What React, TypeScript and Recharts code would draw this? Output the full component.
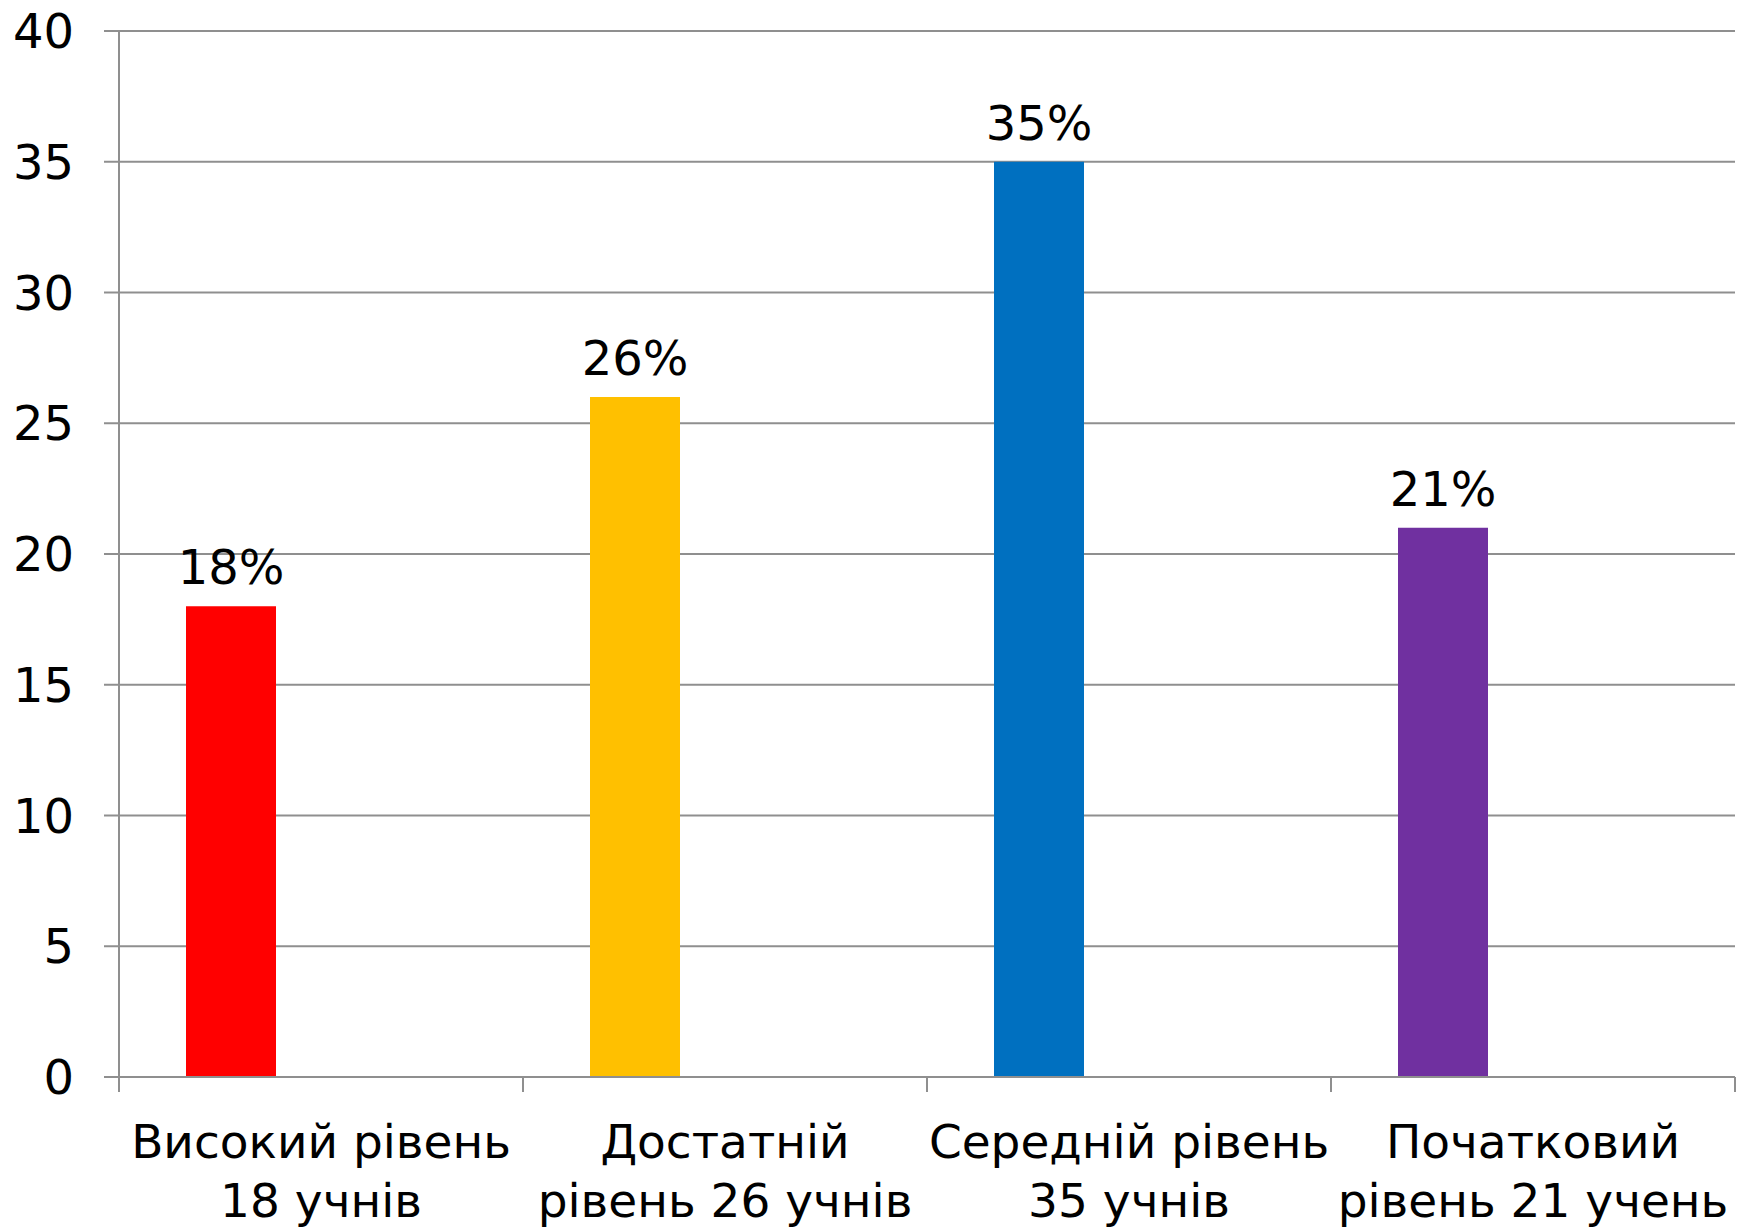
import React from 'react';
import { BarChart, Bar, XAxis, YAxis, CartesianGrid, Cell, LabelList } from 'recharts';

const categories = [
  'Високий рівень\n18 учнів',
  'Достатній\nрівень 26 учнів',
  'Середній рівень\n35 учнів',
  'Початковий\nрівень 21 учень',
];
const values = [18, 26, 35, 21];
const valueLabels = ['18%', '26%', '35%', '21%'];
const barColors = ['#FF0000', '#FFC000', '#0070C0', '#7030A0'];
const yTicks = [0, 5, 10, 15, 20, 25, 30, 35, 40];

const data = categories.map((c, i) => ({
  category: c,
  value: values[i],
  label: valueLabels[i],
  series2: null,
  series3: null,
}));

const WIDTH = 1750;
const HEIGHT = 1228;
const PLOT_LEFT = 119;
const PLOT_RIGHT = 1735;
const PLOT_TOP = 31;
const PLOT_BOTTOM = 1077;
const FONT = '"DejaVu Sans", Verdana, sans-serif';
const FONT_SIZE = 48;
const X_FONT_SIZE = 47;
const GRID = '#8f8f8f';

function XTick(props: any) {
  const { x, y, payload, index } = props;
  const band = (PLOT_RIGHT - PLOT_LEFT) / categories.length;
  const lines = String(payload.value).split('\n');
  return (
    <g>
      <line x1={x - band / 2} x2={x - band / 2} y1={y} y2={y + 15} stroke={GRID} strokeWidth={2} />
      {index === categories.length - 1 && (
        <line x1={x + band / 2} x2={x + band / 2} y1={y} y2={y + 15} stroke={GRID} strokeWidth={2} />
      )}
      <text x={x} y={y + 81} textAnchor="middle" fontFamily={FONT} fontSize={X_FONT_SIZE} fill="#000">
        {lines.map((l, i) => (
          <tspan key={i} x={x} dy={i === 0 ? 0 : 59}>
            {l}
          </tspan>
        ))}
      </text>
    </g>
  );
}

export default function App() {
  return (
    <div style={{ position: 'absolute', left: 0, top: 0, width: WIDTH, height: HEIGHT, background: '#fff' }}>
      <BarChart
        width={WIDTH}
        height={HEIGHT}
        data={data}
        margin={{ top: PLOT_TOP, right: WIDTH - PLOT_RIGHT, left: 0, bottom: 0 }}
        barCategoryGap={67}
        barGap={0}
      >
        <CartesianGrid horizontal vertical={false} stroke={GRID} strokeWidth={2} />
        <XAxis
          dataKey="category"
          height={HEIGHT - PLOT_BOTTOM}
          interval={0}
          tickLine={false}
          tickSize={0}
          tickMargin={0}
          axisLine={{ stroke: GRID, strokeWidth: 2 }}
          tick={<XTick />}
        />
        <YAxis
          width={PLOT_LEFT}
          domain={[0, 40]}
          ticks={yTicks}
          interval={0}
          tickSize={15}
          tickMargin={30}
          axisLine={{ stroke: GRID, strokeWidth: 2 }}
          tickLine={{ stroke: GRID, strokeWidth: 2 }}
          tick={{ fill: '#000', fontSize: FONT_SIZE, fontFamily: FONT }}
        />
        <Bar dataKey="value" isAnimationActive={false}>
          {data.map((d, i) => (
            <Cell key={i} fill={barColors[i]} />
          ))}
          <LabelList
            dataKey="label"
            position="top"
            offset={22}
            fill="#000"
            fontSize={FONT_SIZE}
            fontFamily={FONT}
          />
        </Bar>
        <Bar dataKey="series2" fill="#ffffff" isAnimationActive={false} />
        <Bar dataKey="series3" fill="#ffffff" isAnimationActive={false} />
      </BarChart>
    </div>
  );
}
